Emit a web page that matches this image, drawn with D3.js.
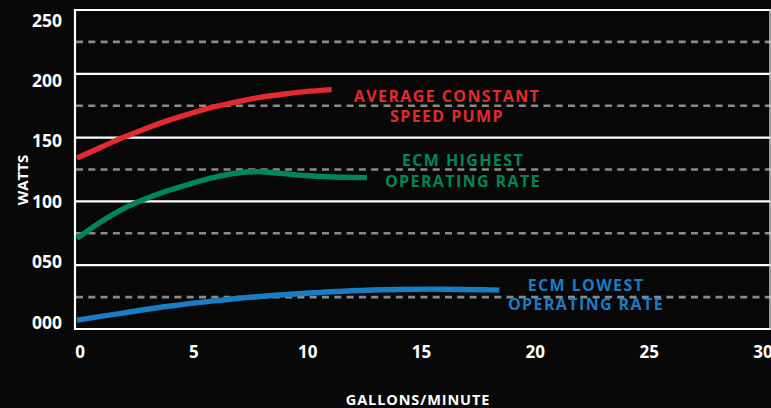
<!DOCTYPE html>
<html><head><meta charset="utf-8">
<script src="https://cdn.jsdelivr.net/npm/d3@7"></script>
<style>
html,body{margin:0;padding:0;background:#080808;}
svg{display:block;}
text{font-family:"Open Sans",sans-serif;font-weight:700;}
</style></head>
<body>
<svg id="c" width="771" height="408"></svg>
<script>
// ---- data ----
const xTicks = [0, 5, 10, 15, 20, 25, 30];
const yTicks = [0, 50, 100, 150, 200, 250];
const yTickLabels = ["000", "050", "100", "150", "200", "250"];
const yMidLines = [25, 75, 125, 175, 225];

const constantGpm   = [0, 1, 2, 3, 4, 5, 6, 7, 8, 9, 10, 11.15];
const constantWatts = [134, 142, 150, 157, 163.5, 169, 174, 178, 181.5, 184, 186, 187.6];

const highGpm   = [0, 1, 2, 3, 4, 5, 6, 7, 8, 9, 10, 11, 12, 12.7];
const highWatts = [71, 83.5, 94, 102, 108.5, 114, 118.8, 122.3, 123.2, 121.8, 120.3, 119.3, 118.8, 118.6];

const lowGpm   = [0, 2, 4, 6, 8, 10, 12, 14, 16, 18, 18.5];
const lowWatts = [7, 12.5, 17.8, 22, 25.5, 28, 30, 31, 31.2, 30.7, 30.5];

const seriesNames = ["AVERAGE CONSTANT|SPEED PUMP", "ECM HIGHEST|OPERATING RATE", "ECM LOWEST|OPERATING RATE"];
const seriesColors = ["#e22a2f", "#00865b", "#1a7cc4"];

// ---- drawing ----
const svg = d3.select("#c");
const x = d3.scaleLinear().domain([0, 30]).range([77, 762]);
const y = d3.scaleLinear().domain([0, 250]).range([329, 10]);
const xLab = d3.scaleLinear().domain([0, 30]).range([80, 763]);
const yLab = d3.scaleLinear().domain([0, 250]).range([328.5, 26.7]);

// dashed mid lines
svg.append("g").selectAll("line").data(yMidLines).join("line")
  .attr("x1", 76).attr("x2", 771)
  .attr("y1", d => y(d)).attr("y2", d => y(d))
  .attr("stroke", "#8a8a8a").attr("stroke-width", 2.6)
  .attr("stroke-dasharray", "7,5.3");

// solid grid lines
svg.append("g").selectAll("line").data(yTicks).join("line")
  .attr("x1", 75).attr("x2", 771)
  .attr("y1", d => y(d)).attr("y2", d => y(d))
  .attr("stroke", "#ffffff").attr("stroke-width", 2.2);

// left axis line & right frame
svg.append("line").attr("x1", 75).attr("x2", 75).attr("y1", y(250) - 1).attr("y2", y(0) + 1)
  .attr("stroke", "#fff").attr("stroke-width", 2.2);
svg.append("line").attr("x1", 770).attr("x2", 770).attr("y1", y(250) - 1).attr("y2", y(0) + 1)
  .attr("stroke", "#cfcfcf").attr("stroke-width", 1.5);

// y tick labels
svg.append("g").selectAll("text").data(yTicks).join("text")
  .attr("x", 62).attr("y", d => yLab(d))
  .attr("text-anchor", "end").attr("fill", "#fff").attr("font-size", 17.5)
  .text((d, i) => yTickLabels[i]);

// x tick labels
svg.append("g").selectAll("text").data(xTicks).join("text")
  .attr("x", d => xLab(d)).attr("y", 357.5)
  .attr("text-anchor", "middle").attr("fill", "#fff").attr("font-size", 17)
  .text(d => d);

// axis titles
svg.append("text").attr("x", 418).attr("y", 405).attr("text-anchor", "middle")
  .attr("fill", "#fff").attr("font-size", 14.5).attr("letter-spacing", 0.9)
  .text("GALLONS/MINUTE");
svg.append("text").attr("transform", "translate(28,180) rotate(-90)")
  .attr("text-anchor", "middle").attr("fill", "#fff").attr("font-size", 15)
  .text("WATTS");

// curves
const line = d3.line().x(d => x(d[0])).y(d => y(d[1])).curve(d3.curveCatmullRom.alpha(0.5));
const series = [
  d3.zip(constantGpm, constantWatts),
  d3.zip(highGpm, highWatts),
  d3.zip(lowGpm, lowWatts)
];
svg.append("g").selectAll("path").data(series).join("path")
  .attr("d", line).attr("fill", "none")
  .attr("stroke", (d, i) => seriesColors[i]).attr("stroke-width", 5.4);

// series labels
const labelPos = [[447, 101.7, 122.3], [463, 166, 186.7], [586, 290.7, 310]];
seriesNames.forEach((n, i) => {
  const parts = n.split("|");
  const t = svg.append("g");
  parts.forEach((p, j) => {
    t.append("text").attr("x", labelPos[i][0]).attr("y", labelPos[i][1 + j])
      .attr("text-anchor", "middle").attr("fill", seriesColors[i])
      .attr("font-size", 16).attr("letter-spacing", 1.4).text(p);
  });
});
</script>
</body></html>
